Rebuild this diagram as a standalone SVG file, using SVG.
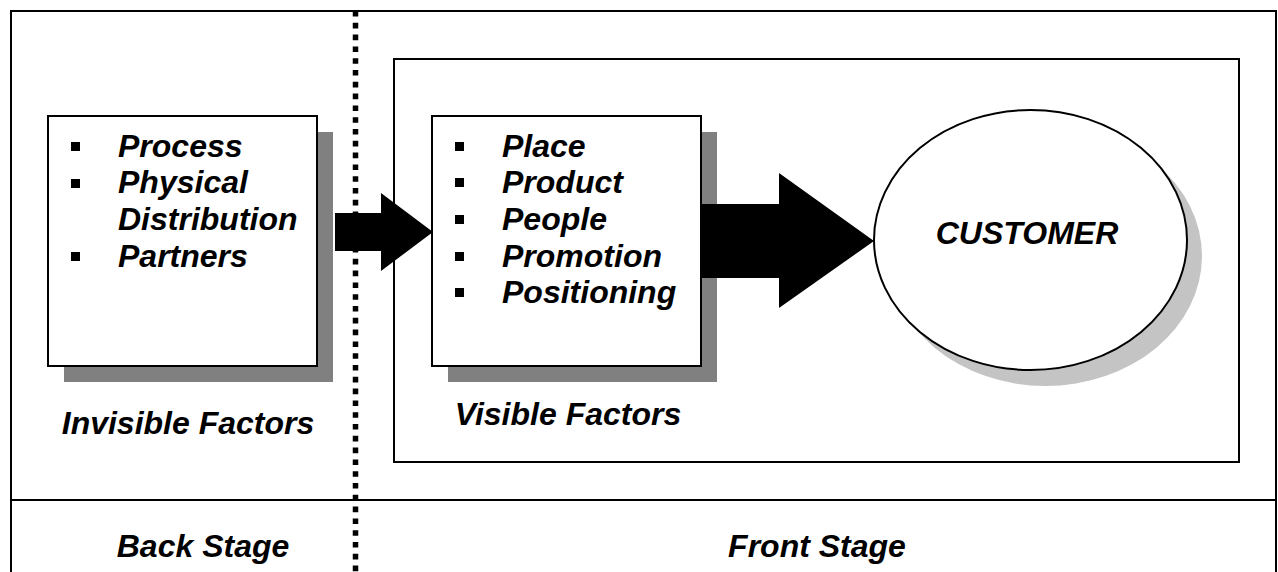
<svg xmlns="http://www.w3.org/2000/svg" width="1278" height="572" viewBox="0 0 1278 572">
<style>
.t{font-family:"Liberation Sans",Arial,sans-serif;font-weight:bold;font-style:italic;font-size:32px;fill:#000}
.box{fill:#fff;stroke:#000;stroke-width:2}
.shadow{fill:#808080}
.frame{fill:none;stroke:#000;stroke-width:2}
.arrow{fill:#000}
</style>
<rect x="0" y="0" width="1278" height="572" fill="#fff"/>
<g id="stage-frame">
<path class="frame" d="M11,572 V11 H1276 V572"/>
<line x1="11" y1="500" x2="1276" y2="500" stroke="#000" stroke-width="2"/>
<text class="t" x="203" y="557" text-anchor="middle">Back Stage</text>
<text class="t" x="817" y="557" text-anchor="middle">Front Stage</text>
</g>
<g id="divider">
<line x1="355.5" y1="11" x2="355.5" y2="572" stroke="#000" stroke-width="5.5" stroke-dasharray="5.6 6.2"/>
</g>
<g id="front-stage-frame">
<rect class="frame" x="394" y="59" width="845" height="403"/>
</g>
<g id="invisible-factors">
<rect class="shadow" x="64" y="132" width="269" height="250"/>
<rect class="box" x="48" y="116" width="269" height="250"/>
<rect x="71" y="142" width="9" height="9"/>
<rect x="71" y="179" width="9" height="9"/>
<rect x="71" y="252" width="9" height="9"/>
<text class="t" x="118" y="157">Process</text>
<text class="t" x="118" y="193">Physical</text>
<text class="t" x="118" y="230">Distribution</text>
<text class="t" x="118" y="267">Partners</text>
<text class="t" x="188" y="434" text-anchor="middle">Invisible Factors</text>
</g>
<g id="visible-factors">
<rect class="shadow" x="448" y="132" width="269" height="250"/>
<rect class="box" x="432" y="116" width="269" height="250"/>
<rect x="455" y="142" width="9" height="9"/>
<rect x="455" y="178" width="9" height="9"/>
<rect x="455" y="215" width="9" height="9"/>
<rect x="455" y="252" width="9" height="9"/>
<rect x="455" y="288" width="9" height="9"/>
<text class="t" x="502" y="157">Place</text>
<text class="t" x="502" y="193">Product</text>
<text class="t" x="502" y="230">People</text>
<text class="t" x="502" y="267">Promotion</text>
<text class="t" x="502" y="303">Positioning</text>
<text class="t" x="568" y="425" text-anchor="middle">Visible Factors</text>
</g>
<g id="customer">
<ellipse cx="1045.5" cy="256" rx="156.5" ry="130" fill="#c4c4c4"/>
<ellipse cx="1030.5" cy="240" rx="156.5" ry="130" fill="#fff" stroke="#000" stroke-width="2"/>
<text class="t" x="1027" y="244" text-anchor="middle">CUSTOMER</text>
</g>
<g id="connectors">
<polygon class="arrow" points="335,213 381,213 381,193 433,232 381,271 381,251 335,251"/>
<polygon class="arrow" points="701,204 779,204 779,173 874,241 779,308 779,278 701,278"/>
</g>
</svg>
